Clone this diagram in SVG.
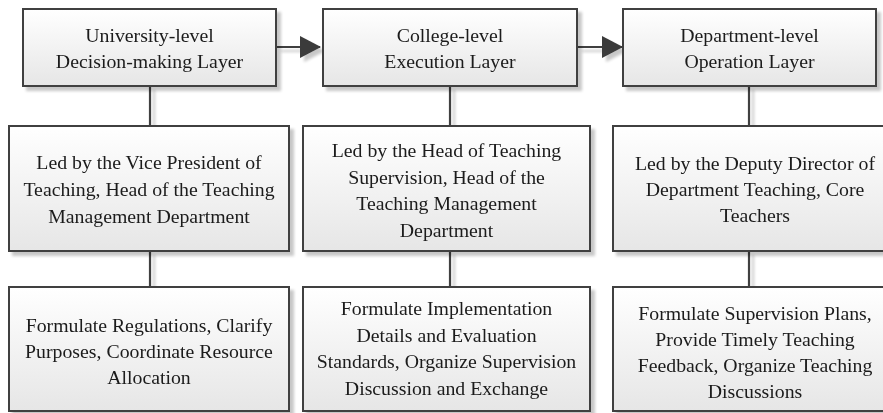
<svg xmlns="http://www.w3.org/2000/svg" width="883" height="413" viewBox="0 0 883 413">
  <defs>
    <linearGradient id="boxFill" x1="0" y1="0" x2="0" y2="1">
      <stop offset="0" stop-color="#ffffff"/>
      <stop offset="1" stop-color="#e6e6e6"/>
    </linearGradient>
    <filter id="shadow" x="-10%" y="-10%" width="130%" height="130%">
      <feGaussianBlur in="SourceAlpha" stdDeviation="1.5" result="b"/>
      <feOffset in="b" dx="4" dy="4" result="o"/>
      <feComponentTransfer in="o" result="s">
        <feFuncA type="linear" slope="0.22"/>
      </feComponentTransfer>
      <feMerge>
        <feMergeNode in="s"/>
        <feMergeNode in="SourceGraphic"/>
      </feMerge>
    </filter>
    <marker id="arrow" markerWidth="22" markerHeight="22" refX="20" refY="11" orient="auto" markerUnits="userSpaceOnUse">
      <path d="M0,0 L21,11 L0,22 Z" fill="#3a3a3a"/>
    </marker>
  </defs>
  <style>
    .box { fill: url(#boxFill); stroke: #404040; stroke-width: 2; }
    .lbl { font-family: "Liberation Serif", "Times New Roman", serif; font-size: 19.8px; fill: #1a1a1a; text-anchor: middle; }
    .link { stroke: #404040; stroke-width: 2.2; fill: none; }
  </style>
  <rect width="883" height="413" fill="#ffffff"/>

  <!-- connectors -->
  <g id="connectors" filter="url(#shadow)">
    <line class="link" x1="277" y1="47" x2="320" y2="47" marker-end="url(#arrow)"/>
    <line class="link" x1="578" y1="47" x2="622" y2="47" marker-end="url(#arrow)"/>
    <line class="link" x1="150" y1="86" x2="150" y2="126"/>
    <line class="link" x1="150" y1="251" x2="150" y2="287"/>
    <line class="link" x1="450" y1="86" x2="450" y2="126"/>
    <line class="link" x1="450" y1="251" x2="450" y2="287"/>
    <line class="link" x1="749" y1="86" x2="749" y2="126"/>
    <line class="link" x1="749" y1="251" x2="749" y2="287"/>
  </g>

  <!-- layer headers -->
  <g id="university" filter="url(#shadow)">
    <rect class="box" x="23" y="9" width="253" height="77"/>
    <text class="lbl" x="149.5" y="42">University-level</text>
    <text class="lbl" x="149.5" y="68">Decision-making Layer</text>
  </g>
  <g id="college" filter="url(#shadow)">
    <rect class="box" x="323" y="9" width="254" height="77"/>
    <text class="lbl" x="450" y="42">College-level</text>
    <text class="lbl" x="450" y="68">Execution Layer</text>
  </g>
  <g id="department" filter="url(#shadow)">
    <rect class="box" x="623" y="9" width="253" height="77"/>
    <text class="lbl" x="749.5" y="42">Department-level</text>
    <text class="lbl" x="749.5" y="68">Operation Layer</text>
  </g>

  <!-- leadership -->
  <g id="university-lead" filter="url(#shadow)">
    <rect class="box" x="9" y="126" width="280" height="125"/>
    <text class="lbl" x="149" y="169">Led by the Vice President of</text>
    <text class="lbl" x="149" y="196">Teaching, Head of the Teaching</text>
    <text class="lbl" x="149" y="223">Management Department</text>
  </g>
  <g id="college-lead" filter="url(#shadow)">
    <rect class="box" x="303" y="126" width="287" height="125"/>
    <text class="lbl" x="446.5" y="157">Led by the Head of Teaching</text>
    <text class="lbl" x="446.5" y="184">Supervision, Head of the</text>
    <text class="lbl" x="446.5" y="210">Teaching Management</text>
    <text class="lbl" x="446.5" y="237">Department</text>
  </g>
  <g id="department-lead" filter="url(#shadow)">
    <rect class="box" x="613" y="126" width="284" height="125"/>
    <text class="lbl" x="755" y="170">Led by the Deputy Director of</text>
    <text class="lbl" x="755" y="196">Department Teaching, Core</text>
    <text class="lbl" x="755" y="222">Teachers</text>
  </g>

  <!-- duties -->
  <g id="university-duty" filter="url(#shadow)">
    <rect class="box" x="9" y="287" width="280" height="124"/>
    <text class="lbl" x="149" y="332">Formulate Regulations, Clarify</text>
    <text class="lbl" x="149" y="358">Purposes, Coordinate Resource</text>
    <text class="lbl" x="149" y="384">Allocation</text>
  </g>
  <g id="college-duty" filter="url(#shadow)">
    <rect class="box" x="303" y="287" width="287" height="124"/>
    <text class="lbl" x="446.5" y="315">Formulate Implementation</text>
    <text class="lbl" x="446.5" y="342">Details and Evaluation</text>
    <text class="lbl" x="446.5" y="368">Standards, Organize Supervision</text>
    <text class="lbl" x="446.5" y="395">Discussion and Exchange</text>
  </g>
  <g id="department-duty" filter="url(#shadow)">
    <rect class="box" x="613" y="287" width="284" height="124"/>
    <text class="lbl" x="755" y="320">Formulate Supervision Plans,</text>
    <text class="lbl" x="755" y="346">Provide Timely Teaching</text>
    <text class="lbl" x="755" y="372">Feedback, Organize Teaching</text>
    <text class="lbl" x="755" y="398">Discussions</text>
  </g>
</svg>
